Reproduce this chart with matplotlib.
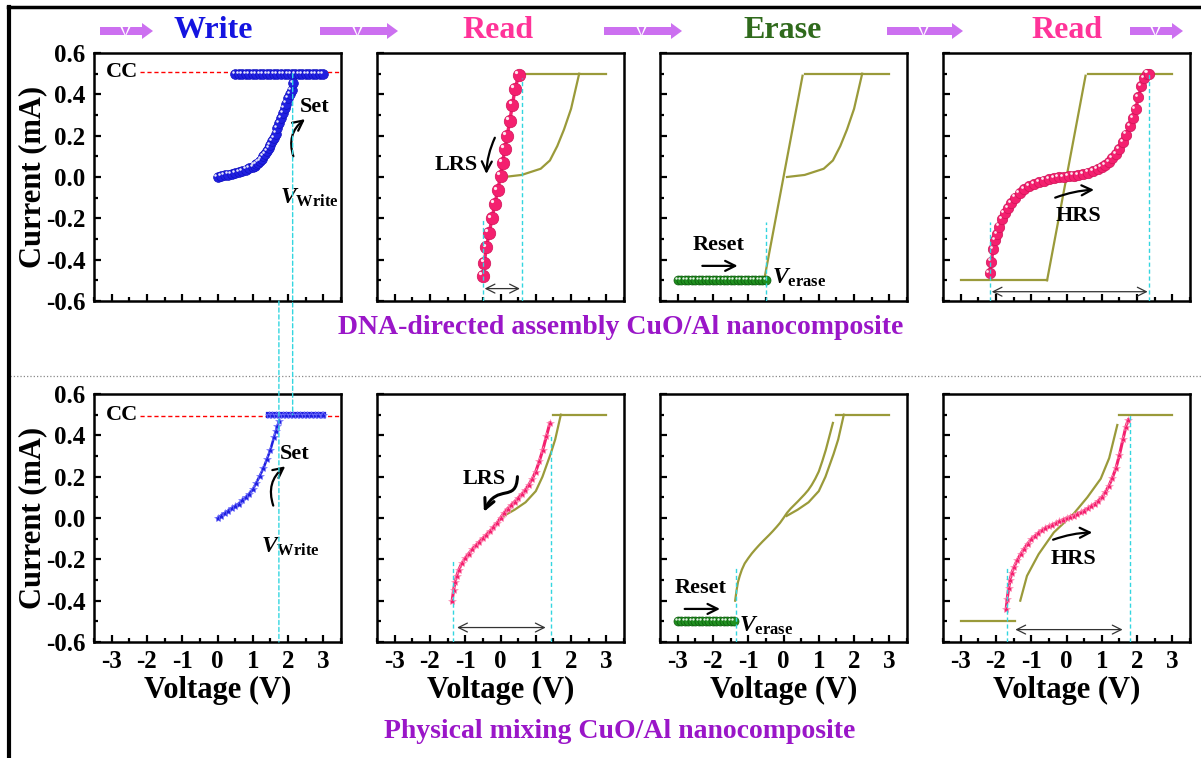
import matplotlib
matplotlib.use("Agg")
import matplotlib.pyplot as plt
from matplotlib.patches import Polygon, FancyArrowPatch, ConnectionPatch
from matplotlib.path import Path
from matplotlib.ticker import MultipleLocator
from matplotlib.transforms import offset_copy
from matplotlib.lines import Line2D

plt.rcParams['font.family'] = 'Liberation Serif'
plt.rcParams['font.weight'] = 'bold'
plt.rcParams['axes.unicode_minus'] = False
plt.rcParams['mathtext.fontset'] = 'custom'
plt.rcParams['mathtext.rm'] = 'Liberation Serif:bold'
plt.rcParams['mathtext.it'] = 'Liberation Serif:italic:bold'
plt.rcParams['mathtext.bf'] = 'Liberation Serif:bold'

# ---- data (V in volts, I in mA) ----
# top row: DNA-directed assembly
write_dna_v = [0.00, 0.10, 0.20, 0.30, 0.40, 0.50, 0.60, 0.70, 0.80, 0.90, 1.00, 1.05, 1.10, 1.15,
               1.20, 1.25, 1.30, 1.35, 1.40, 1.45, 1.50, 1.55, 1.60, 1.65, 1.70, 1.75, 1.80, 1.85,
               1.90, 1.95, 2.00, 2.05, 2.10, 2.13]
write_dna_i = [0.000, 0.004, 0.008, 0.012, 0.016, 0.020, 0.024, 0.030, 0.036, 0.042, 0.049, 0.055, 0.062, 0.070,
               0.078, 0.088, 0.100, 0.112, 0.125, 0.140, 0.155, 0.172, 0.190, 0.210, 0.235, 0.260, 0.285, 0.310,
               0.335, 0.355, 0.380, 0.400, 0.420, 0.455]
cc_dna_v = [0.5, 0.6, 0.7, 0.8, 0.9, 1.0, 1.1, 1.2, 1.3, 1.4, 1.5, 1.6, 1.7, 1.8, 1.9, 2.0,
            2.1, 2.2, 2.3, 2.4, 2.5, 2.6, 2.7, 2.8, 2.9, 3.0]
cc_dna_i = [0.5] * len(cc_dna_v)

read_lrs_dna_v = [-0.50, -0.46, -0.40, -0.32, -0.24, -0.16, -0.08, 0.00, 0.06, 0.12, 0.19, 0.26, 0.34, 0.41, 0.52]
read_lrs_dna_i = [-0.48, -0.415, -0.34, -0.27, -0.20, -0.13, -0.065, 0.005, 0.07, 0.135, 0.20, 0.27, 0.35, 0.425, 0.495]

# olive traces = previous sweeps
prev_write_dna_v = [0.10, 0.60, 1.14, 1.40, 1.61, 1.80, 2.00, 2.23]
prev_write_dna_i = [0.00, 0.01, 0.04, 0.08, 0.15, 0.23, 0.33, 0.50]
prev_cc_dna_v = [0.60, 3.00]
prev_cc_dna_i = [0.50, 0.50]
prev_lrs_dna_v = [-0.55, 0.54]
prev_lrs_dna_i = [-0.50, 0.49]
prev_reset_dna_v = [-3.00, -0.55]
prev_reset_dna_i = [-0.50, -0.50]

erase_dna_v = [-3.0, -2.9, -2.8, -2.7, -2.6, -2.5, -2.4, -2.3, -2.2, -2.1, -2.0, -1.9, -1.8,
               -1.7, -1.6, -1.5, -1.4, -1.3, -1.2, -1.1, -1.0, -0.9, -0.8, -0.7, -0.6, -0.5]
erase_dna_i = [-0.5] * len(erase_dna_v)

read_hrs_dna_v = [-2.18, -2.13, -2.08, -2.03, -1.97, -1.90, -1.83, -1.75, -1.66, -1.56, -1.45,
                  -1.33, -1.20, -1.06, -0.92, -0.78, -0.64, -0.50, -0.36, -0.22, -0.08, 0.06,
                  0.20, 0.34, 0.48, 0.62, 0.76, 0.88, 1.00, 1.10, 1.20, 1.30, 1.40, 1.50,
                  1.60, 1.70, 1.80, 1.88, 1.96, 2.04, 2.12, 2.20, 2.28, 2.33]
read_hrs_dna_i = [-0.465, -0.41, -0.35, -0.305, -0.275, -0.24, -0.205, -0.175, -0.15, -0.125, -0.10,
                  -0.078, -0.060, -0.045, -0.035, -0.025, -0.017, -0.012, -0.007, -0.002, 0.001, 0.004,
                  0.007, 0.010, 0.015, 0.021, 0.029, 0.037, 0.047, 0.058, 0.072, 0.090, 0.110, 0.135,
                  0.170, 0.205, 0.245, 0.285, 0.330, 0.385, 0.440, 0.480, 0.500, 0.500]

# bottom row: physical mixing
write_phy_v = [0.00, 0.10, 0.20, 0.30, 0.40, 0.50, 0.60, 0.70, 0.80, 0.90, 1.00, 1.10, 1.20,
               1.30, 1.40, 1.50, 1.60, 1.65, 1.70, 1.75]
write_phy_i = [0.000, 0.012, 0.024, 0.035, 0.048, 0.058, 0.070, 0.085, 0.100, 0.117, 0.138, 0.170, 0.205,
               0.240, 0.285, 0.330, 0.390, 0.420, 0.445, 0.470]
cc_phy_v = [1.45, 1.55, 1.65, 1.75, 1.85, 1.95, 2.05, 2.15, 2.25, 2.35, 2.45, 2.55, 2.65, 2.75, 2.85, 2.95, 3.00]
cc_phy_i = [0.5] * len(cc_phy_v)

read_lrs_phy_v = [-1.37, -1.33, -1.29, -1.24, -1.18, -1.10, -1.00, -0.90, -0.80, -0.70, -0.60, -0.50,
                  -0.40, -0.30, -0.20, -0.10, 0.00, 0.10, 0.20, 0.30, 0.40, 0.50, 0.60, 0.70,
                  0.80, 0.90, 1.00, 1.10, 1.20, 1.30, 1.40]
read_lrs_phy_i = [-0.40, -0.35, -0.31, -0.28, -0.25, -0.22, -0.195, -0.172, -0.152, -0.133, -0.115, -0.098,
                  -0.081, -0.063, -0.044, -0.024, 0.000, 0.025, 0.045, 0.062, 0.079, 0.097, 0.115, 0.135,
                  0.160, 0.190, 0.225, 0.275, 0.330, 0.395, 0.460]

prev_write_phy_v = [0.09, 0.40, 0.71, 1.00, 1.19, 1.42, 1.55, 1.71]
prev_write_phy_i = [0.01, 0.04, 0.076, 0.13, 0.20, 0.31, 0.38, 0.50]
prev_cc_phy_v = [1.50, 3.00]
prev_cc_phy_i = [0.50, 0.50]

erase_phy_v = [-3.0, -2.9, -2.8, -2.7, -2.6, -2.5, -2.4, -2.3, -2.2, -2.1, -2.0, -1.9, -1.8,
               -1.7, -1.6, -1.5, -1.4]
erase_phy_i = [-0.5] * len(erase_phy_v)

prev_lrs_phy_v = [-1.31, -1.12, -0.79, -0.36, 0.21, 0.59, 0.97, 1.21, 1.44]
prev_lrs_phy_i = [-0.40, -0.28, -0.175, -0.07, 0.022, 0.10, 0.19, 0.29, 0.45]
prev_reset_phy_v = [-3.00, -1.45]
prev_reset_phy_i = [-0.50, -0.50]

read_hrs_phy_v = [-1.71, -1.68, -1.64, -1.60, -1.55, -1.48, -1.40, -1.30, -1.20, -1.10, -1.00, -0.90,
                  -0.80, -0.70, -0.60, -0.50, -0.40, -0.30, -0.20, -0.10, 0.00, 0.10, 0.20, 0.30,
                  0.40, 0.50, 0.60, 0.70, 0.80, 0.90, 1.00, 1.10, 1.20, 1.30, 1.40, 1.50,
                  1.60, 1.68, 1.75]
read_hrs_phy_i = [-0.44, -0.39, -0.34, -0.30, -0.265, -0.235, -0.205, -0.175, -0.148, -0.124, -0.104, -0.087,
                  -0.073, -0.060, -0.049, -0.040, -0.032, -0.024, -0.016, -0.008, 0.000, 0.006, 0.012, 0.019,
                  0.027, 0.036, 0.046, 0.057, 0.069, 0.083, 0.100, 0.125, 0.155, 0.195, 0.240, 0.305,
                  0.380, 0.440, 0.475]

titles = ["Write", "Read", "Erase", "Read"]
title_colors = ["#1414e0", "#ff3399", "#2f6a1c", "#ff3399"]
captions = ["DNA-directed assembly CuO/Al nanocomposite", "Physical mixing CuO/Al nanocomposite"]

BLUE, BLUE_E = "#2020e0", "#1010c0"
PINK, PINK_E = "#f4206f", "#d01458"
GREEN, GREEN_E = "#1f8f1f", "#0c5a0c"
OLIVE = "#9a9a3a"
CYAN = "#33d6e0"
PURPLE = "#cc70f0"
CAP = "#9a16c8"

W, H = 1201, 758
fig = plt.figure(figsize=(W / 100, H / 100), dpi=100)


def fx(x):
    return x / W


def fy(y):
    return 1 - y / H


col_left = [94, 377, 660, 943]
row_top = [53, 394]
pw, ph = 247, 248

axs = [[None] * 4 for _ in range(2)]
for r in range(2):
    for c in range(4):
        ax = fig.add_axes([fx(col_left[c]), fy(row_top[r] + ph), pw / W, ph / H])
        ax.set_xlim(-3.5, 3.5)
        ax.set_ylim(-0.6, 0.6)
        ax.xaxis.set_major_locator(MultipleLocator(1))
        ax.xaxis.set_minor_locator(MultipleLocator(0.5))
        ax.yaxis.set_major_locator(MultipleLocator(0.2))
        ax.yaxis.set_minor_locator(MultipleLocator(0.1))
        ax.tick_params(which='both', direction='in', width=1.6, top=False, right=False, labelsize=18)
        ax.tick_params(which='major', length=5, pad=6)
        ax.tick_params(which='minor', length=3)
        for s in ax.spines.values():
            s.set_linewidth(1.8)
        if c > 0:
            ax.tick_params(labelleft=False)
        else:
            ax.set_yticks([-0.6, -0.4, -0.2, 0.0, 0.2, 0.4, 0.6])
            ax.set_yticklabels(["-0.6", "-0.4", "-0.2", "0.0", "0.2", "0.4", "0.6"])
            ax.set_ylabel("Current (mA)", fontsize=22, fontweight='bold')
            ax.yaxis.set_label_coords(-0.19, 0.5)
        if r == 0:
            ax.tick_params(labelbottom=False)
        else:
            ax.set_xticks([-3, -2, -1, 0, 1, 2, 3])
            ax.set_xticklabels(["-3", "-2", "-1", "0", "1", "2", "3"])
            ax.set_xlabel("Voltage (V)", fontsize=22, fontweight='bold')
            ax.xaxis.set_label_coords(0.5, -0.135)
        axs[r][c] = ax


def spheres(ax, v, i, color, edge, ms, line=False):
    ax.plot(v, i, ls='-' if line else 'none', lw=2.4, color=color, marker='o', ms=ms,
            mfc=color, mec=edge, mew=0.5, zorder=3)
    tr = offset_copy(ax.transData, fig=fig, x=-ms * 0.22, y=ms * 0.22, units='points')
    ax.plot(v, i, ls='none', marker='o', ms=ms * 0.26, mfc='white', mec='none', alpha=0.9,
            transform=tr, zorder=4)


def stars(ax, v, i, color, ms=6):
    ax.plot(v, i, ls='-', lw=2.2, color=color, marker='*', ms=ms, mfc=color, mec='#ff9ec0', mew=0.4, zorder=3)


def dbl_arrow(ax, x0, x1, y):
    ax.annotate('', xy=(x1, y), xytext=(x0, y),
                arrowprops=dict(arrowstyle='<->', color='#333333', lw=0.9, shrinkA=0, shrinkB=0,
                                mutation_scale=16))


def arrow(ax, x0, y0, x1, y1, rad=0.0, lw=1.6):
    ax.annotate('', xy=(x1, y1), xytext=(x0, y0),
                arrowprops=dict(arrowstyle='->', color='black', lw=lw, shrinkA=0, shrinkB=0,
                                mutation_scale=18, connectionstyle="arc3,rad=%s" % rad))


def vcyan(ax, x, y0, y1):
    ax.plot([x, x], [y0, y1], color=CYAN, lw=1.0, ls=(0, (3, 2)), zorder=5)


def olive(ax, v, i):
    ax.plot(v, i, color=OLIVE, lw=1.6, zorder=2)


# ---- top row ----
ax = axs[0][0]
ax.plot([-2.2, 3.5], [0.51, 0.51], color='red', lw=1.0, ls=(0, (3, 2)), zorder=1)
ax.text(-2.7, 0.51, "CC", fontsize=16, ha='center', va='center')
spheres(ax, cc_dna_v, cc_dna_i, BLUE, BLUE_E, 7)
spheres(ax, write_dna_v, write_dna_i, BLUE, BLUE_E, 7)
ax.text(2.75, 0.34, "Set", fontsize=16, ha='center', va='center')
arrow(ax, 2.15, 0.10, 2.48, 0.28, rad=-0.35)
ax.text(1.78, -0.10, r"$\mathit{V}_{\mathrm{Write}}$", fontsize=17, ha='left', va='center')

ax = axs[0][1]
olive(ax, prev_write_dna_v, prev_write_dna_i)
olive(ax, prev_cc_dna_v, prev_cc_dna_i)
vcyan(ax, -0.5, -0.6, -0.2)
vcyan(ax, 0.61, -0.6, 0.48)
spheres(ax, read_lrs_dna_v, read_lrs_dna_i, PINK, PINK_E, 9, line=True)
dbl_arrow(ax, -0.45, 0.55, -0.54)
ax.text(-1.25, 0.06, "LRS", fontsize=16, ha='center', va='center')
arrow(ax, -0.16, 0.19, -0.40, 0.015, rad=0.1)

ax = axs[0][2]
olive(ax, prev_write_dna_v, prev_write_dna_i)
olive(ax, prev_cc_dna_v, prev_cc_dna_i)
olive(ax, prev_lrs_dna_v, prev_lrs_dna_i)
vcyan(ax, -0.5, -0.6, -0.22)
spheres(ax, erase_dna_v, erase_dna_i, GREEN, GREEN_E, 6.5)
ax.text(-1.85, -0.33, "Reset", fontsize=16, ha='center', va='center')
arrow(ax, -2.3, -0.43, -1.3, -0.43)
ax.text(-0.32, -0.49, r"$\mathit{V}_{\mathrm{erase}}$", fontsize=17, ha='left', va='center')

ax = axs[0][3]
olive(ax, prev_reset_dna_v, prev_reset_dna_i)
olive(ax, prev_lrs_dna_v, prev_lrs_dna_i)
olive(ax, prev_cc_dna_v, prev_cc_dna_i)
vcyan(ax, -2.16, -0.6, -0.22)
vcyan(ax, 2.34, -0.6, 0.5)
spheres(ax, read_hrs_dna_v, read_hrs_dna_i, PINK, PINK_E, 7.5, line=True)
dbl_arrow(ax, -2.12, 2.30, -0.555)
arrow(ax, -0.32, -0.10, 0.78, -0.062, rad=-0.08)
ax.text(0.35, -0.19, "HRS", fontsize=16, ha='center', va='center')

# ---- bottom row ----
ax = axs[1][0]
ax.plot([-2.2, 3.5], [0.495, 0.495], color='red', lw=1.0, ls=(0, (3, 2)), zorder=1)
ax.text(-2.7, 0.50, "CC", fontsize=16, ha='center', va='center')
ax.plot(cc_phy_v, cc_phy_i, color=BLUE, lw=4.5, marker='*', ms=6, mfc=BLUE, mec='#8080ff', mew=0.4, zorder=3)
ax.plot(write_phy_v, write_phy_i, color=BLUE, lw=1.8, marker='*', ms=6, mfc=BLUE, mec='#8080ff', mew=0.4, zorder=3)
ax.text(2.2, 0.31, "Set", fontsize=16, ha='center', va='center')
arrow(ax, 1.58, 0.06, 1.92, 0.25, rad=-0.35)
ax.text(1.22, -0.14, r"$\mathit{V}_{\mathrm{Write}}$", fontsize=17, ha='left', va='center')

ax = axs[1][1]
olive(ax, prev_write_phy_v, prev_write_phy_i)
olive(ax, prev_cc_phy_v, prev_cc_phy_i)
vcyan(ax, -1.36, -0.6, -0.2)
vcyan(ax, 1.44, -0.6, 0.4)
stars(ax, read_lrs_phy_v, read_lrs_phy_i, PINK)
dbl_arrow(ax, -1.23, 1.28, -0.53)
ax.text(-0.45, 0.19, "LRS", fontsize=16, ha='center', va='center')
wavy = Path([(0.48, 0.20), (0.45, 0.07), (-0.10, 0.17), (-0.47, 0.03)],
            [Path.MOVETO, Path.CURVE4, Path.CURVE4, Path.CURVE4])
ax.add_patch(FancyArrowPatch(path=wavy, arrowstyle='->', mutation_scale=18, lw=2.2, color='black', zorder=6))

ax = axs[1][2]
olive(ax, read_lrs_phy_v, read_lrs_phy_i)
olive(ax, prev_write_phy_v, prev_write_phy_i)
olive(ax, prev_cc_phy_v, prev_cc_phy_i)
vcyan(ax, -1.35, -0.6, -0.23)
spheres(ax, erase_phy_v, erase_phy_i, GREEN, GREEN_E, 6.5)
ax.text(-2.35, -0.34, "Reset", fontsize=16, ha='center', va='center')
arrow(ax, -2.8, -0.44, -1.8, -0.44)
ax.text(-1.25, -0.52, r"$\mathit{V}_{\mathrm{erase}}$", fontsize=17, ha='left', va='center')

ax = axs[1][3]
olive(ax, prev_reset_phy_v, prev_reset_phy_i)
olive(ax, prev_lrs_phy_v, prev_lrs_phy_i)
olive(ax, prev_cc_phy_v, prev_cc_phy_i)
vcyan(ax, -1.69, -0.6, -0.23)
vcyan(ax, 1.80, -0.6, 0.5)
stars(ax, read_hrs_phy_v, read_hrs_phy_i, PINK)
dbl_arrow(ax, -1.45, 1.59, -0.54)
arrow(ax, -0.38, -0.105, 0.73, -0.07, rad=-0.08)
ax.text(0.21, -0.20, "HRS", fontsize=16, ha='center', va='center')

# cyan guide lines linking the two Write panels
for xa, ya, yb in [(1.74, -0.6, -0.6), (2.13, 0.5, 0.5)]:
    con = ConnectionPatch(xyA=(xa, ya), coordsA='data', axesA=axs[0][0],
                          xyB=(xa, yb), coordsB='data', axesB=axs[1][0],
                          color=CYAN, lw=1.0, ls=(0, (3, 2)), zorder=5)
    fig.add_artist(con)

# ---- titles, arrows, captions ----
title_x = [213, 498, 783, 1067]
for t, col, xx in zip(titles, title_colors, title_x):
    fig.text(fx(xx), fy(31), t, color=col, fontsize=23, ha='center', va='center')


def flow_arrow(x0, x1, yc):
    bh, hh, hl = 4, 8, 11
    xn = x0 + 0.48 * (x1 - x0)
    xh = x1 - hl
    left = [(x0, yc - bh), (xn - 5, yc - bh), (xn - 1, yc + bh), (x0, yc + bh)]
    tri = [(xn - 3, yc - bh), (xn + 3, yc - bh), (xn, yc + bh)]
    right = [(xn + 5, yc - bh), (xh, yc - bh), (xh, yc - hh), (x1, yc), (xh, yc + hh),
             (xh, yc + bh), (xn + 1, yc + bh)]
    for pts in (left, tri, right):
        fig.add_artist(Polygon([(fx(a), fy(b)) for a, b in pts], closed=True,
                               transform=fig.transFigure, fc=PURPLE, ec='none'))


for x0, x1 in [(100, 153), (320, 398), (604, 682), (887, 963), (1130, 1183)]:
    flow_arrow(x0, x1, 31)

fig.text(fx(621), fy(328), captions[0], color=CAP, fontsize=20, ha='center', va='center')
fig.text(fx(620), fy(731), captions[1], color=CAP, fontsize=20, ha='center', va='center')

# separator and frame
fig.add_artist(Line2D([fx(10), fx(1201)], [fy(376), fy(376)], color='#888888', lw=0.9, ls=':',
                      transform=fig.transFigure))
fig.add_artist(Line2D([fx(8), fx(1201)], [fy(7), fy(7)], color='black', lw=2.5, transform=fig.transFigure))
fig.add_artist(Line2D([fx(9), fx(9)], [fy(7), fy(758)], color='black', lw=3, transform=fig.transFigure))

fig.savefig("out.png", dpi=100)
